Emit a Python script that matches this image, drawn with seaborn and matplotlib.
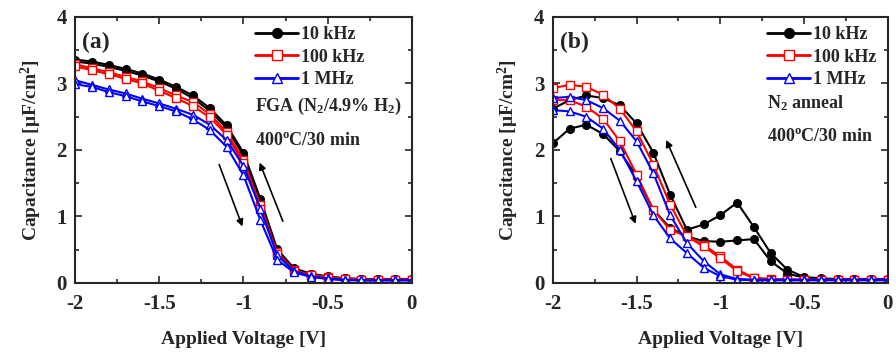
import seaborn as sns
import matplotlib.pyplot as plt
from matplotlib.lines import Line2D
from matplotlib.ticker import MultipleLocator, FormatStrFormatter

voltage = [-2.0, -1.9, -1.8, -1.7, -1.6, -1.5, -1.4, -1.3, -1.2, -1.1, -1.0,
           -0.9, -0.8, -0.7, -0.6, -0.5, -0.4, -0.3, -0.2, -0.1, 0.0]

freqs = ['10 kHz', '100 kHz', '1 MHz']

# panel (a): FGA anneal, two sweeps per frequency
a_10k_up = [3.36, 3.33, 3.28, 3.22, 3.15, 3.06, 2.95, 2.82, 2.63, 2.37, 1.96,
            1.27, 0.51, 0.22, 0.14, 0.10, 0.07, 0.06, 0.06, 0.06, 0.06]
a_10k_dn = [3.33, 3.30, 3.25, 3.19, 3.12, 3.03, 2.92, 2.78, 2.59, 2.33, 1.92,
            1.22, 0.48, 0.21, 0.13, 0.09, 0.07, 0.06, 0.06, 0.06, 0.06]
a_100k_up = [3.29, 3.23, 3.17, 3.10, 3.03, 2.93, 2.82, 2.72, 2.54, 2.27, 1.85,
             1.17, 0.46, 0.19, 0.12, 0.09, 0.06, 0.05, 0.05, 0.05, 0.05]
a_100k_dn = [3.26, 3.20, 3.14, 3.07, 3.00, 2.89, 2.78, 2.66, 2.49, 2.23, 1.80,
             1.12, 0.43, 0.18, 0.12, 0.08, 0.06, 0.05, 0.05, 0.05, 0.05]
a_1M_up = [3.05, 2.98, 2.91, 2.85, 2.77, 2.70, 2.62, 2.53, 2.38, 2.15, 1.76,
           1.12, 0.42, 0.18, 0.10, 0.07, 0.05, 0.04, 0.04, 0.04, 0.04]
a_1M_dn = [2.99, 2.95, 2.87, 2.81, 2.73, 2.66, 2.58, 2.46, 2.30, 2.05, 1.62,
           0.95, 0.35, 0.16, 0.09, 0.06, 0.04, 0.04, 0.04, 0.04, 0.04]

# panel (b): N2 anneal
b_10k_up = [2.62, 2.75, 2.82, 2.78, 2.67, 2.40, 1.96, 1.33, 0.80, 0.88, 1.02,
            1.21, 0.84, 0.45, 0.20, 0.09, 0.07, 0.06, 0.06, 0.06, 0.06]
b_10k_dn = [2.10, 2.32, 2.38, 2.24, 1.98, 1.60, 1.10, 0.83, 0.70, 0.63, 0.62,
            0.64, 0.66, 0.33, 0.14, 0.08, 0.06, 0.06, 0.06, 0.06, 0.06]
b_100k_up = [2.93, 2.98, 2.95, 2.83, 2.62, 2.28, 1.78, 1.18, 0.71, 0.57, 0.40,
             0.20, 0.08, 0.06, 0.05, 0.05, 0.05, 0.05, 0.05, 0.05, 0.05]
b_100k_dn = [2.75, 2.75, 2.65, 2.47, 2.13, 1.63, 1.10, 0.80, 0.70, 0.55, 0.37,
             0.18, 0.07, 0.05, 0.05, 0.05, 0.05, 0.05, 0.05, 0.05, 0.05]
b_1M_up = [2.78, 2.80, 2.75, 2.63, 2.44, 2.13, 1.65, 1.02, 0.60, 0.33, 0.13,
           0.06, 0.05, 0.05, 0.05, 0.05, 0.05, 0.05, 0.05, 0.05, 0.05]
b_1M_dn = [2.60, 2.58, 2.50, 2.32, 2.00, 1.53, 1.02, 0.67, 0.45, 0.23, 0.10,
           0.05, 0.04, 0.04, 0.04, 0.04, 0.04, 0.04, 0.04, 0.04, 0.04]

sns.set_style('ticks')
plt.rcParams['font.family'] = ['Liberation Serif', 'DejaVu Serif']
plt.rcParams['font.weight'] = 'bold'
plt.rcParams['mathtext.fontset'] = 'custom'
plt.rcParams['mathtext.rm'] = 'Liberation Serif:bold'
plt.rcParams['mathtext.bf'] = 'Liberation Serif:bold'
plt.rcParams['mathtext.it'] = 'Liberation Serif:bold'
plt.rcParams['mathtext.default'] = 'rm'

colors = ['black', 'red', 'blue']
markers = ['o', 's', '^']
faces = ['black', 'white', 'white']

fig = plt.figure(figsize=(8.96, 3.54), dpi=100)
ax1 = fig.add_axes([0.0837, 0.2006, 0.376, 0.7514])
ax2 = fig.add_axes([0.617, 0.2006, 0.374, 0.7514])

panels = [
    (ax1, [(a_10k_up, a_10k_dn), (a_100k_up, a_100k_dn), (a_1M_up, a_1M_dn)], 0.534),
    (ax2, [(b_10k_up, b_10k_dn), (b_100k_up, b_100k_dn), (b_1M_up, b_1M_dn)], 0.639),
]

for ax, series, leg_x in panels:
    for i, sweeps in enumerate(series):
        for sw in sweeps:
            sns.lineplot(x=voltage, y=sw, ax=ax, sort=False, color=colors[i],
                         lw=1.5, marker=markers[i], markersize=5.5,
                         markerfacecolor=faces[i], markeredgecolor=colors[i],
                         markeredgewidth=1.0)
    ax.set_xlim(-2, 0)
    ax.set_ylim(0, 4)
    ax.xaxis.set_major_locator(MultipleLocator(0.5))
    ax.xaxis.set_minor_locator(MultipleLocator(0.25))
    ax.yaxis.set_major_locator(MultipleLocator(1))
    ax.yaxis.set_minor_locator(MultipleLocator(0.5))
    ax.xaxis.set_major_formatter(FormatStrFormatter('%g'))
    ax.tick_params(which='both', direction='in', top=True, right=True,
                   labelsize=15, width=1.2)
    ax.tick_params(which='major', length=5)
    ax.tick_params(which='minor', length=3)
    ax.tick_params(axis='x', which='major', pad=8)
    ax.tick_params(axis='y', which='major', pad=6)
    for s in ax.spines.values():
        s.set_linewidth(1.5)
    ax.set_xlabel('Applied Voltage [V]', fontsize=14, fontweight='bold', labelpad=12)
    ax.set_ylabel('Capacitance [μF/cm$^2$]', fontsize=14, fontweight='bold', labelpad=9)

    handles = [Line2D([], [], color=colors[i], lw=2, marker=markers[i], markersize=7,
                      markerfacecolor=faces[i], markeredgecolor=colors[i])
               for i in range(3)]
    ax.legend(handles, freqs, loc='upper left', bbox_to_anchor=(leg_x, 0.965),
              frameon=False, handlelength=2.4, handletextpad=0.15,
              labelspacing=0.3, borderpad=0, borderaxespad=0,
              prop={'weight': 'bold', 'size': 13})

ax1.text(0.02, 0.885, '(a)', transform=ax1.transAxes, fontsize=17, fontweight='bold')
ax2.text(0.02, 0.885, '(b)', transform=ax2.transAxes, fontsize=17, fontweight='bold')

ax1.text(-0.932, 2.65, 'FGA (N$_2$/4.9% H$_2$)', fontsize=13, fontweight='bold', va='center')
ax1.text(-0.932, 2.15, '400$^o$C/30 min', fontsize=13, fontweight='bold', va='center')
ax2.text(-0.722, 2.7, 'N$_2$ anneal', fontsize=13, fontweight='bold', va='center')
ax2.text(-0.722, 2.2, '400$^o$C/30 min', fontsize=13, fontweight='bold', va='center')

arrow = dict(arrowstyle='-|>', color='black', lw=1.2, mutation_scale=10)
ax1.annotate('', xy=(-1.0, 0.81), xytext=(-1.15, 1.82), arrowprops=arrow)
ax1.annotate('', xy=(-0.91, 1.85), xytext=(-0.76, 0.89), arrowprops=arrow)
ax2.annotate('', xy=(-1.50, 0.85), xytext=(-1.66, 1.91), arrowprops=arrow)
ax2.annotate('', xy=(-1.33, 2.19), xytext=(-1.14, 1.10), arrowprops=arrow)

plt.savefig('out.png', dpi=100)
